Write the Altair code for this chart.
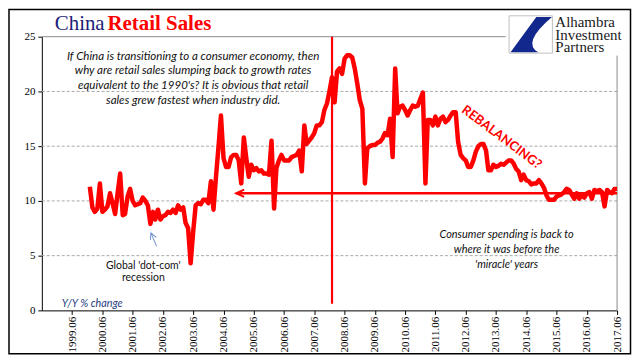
import altair as alt
import pandas as pd

# ---------------- data ----------------
first_month = "2000-01-01"
retail_sales = [
    11.3, 9.4, 9.0, 9.3, 11.6, 9.0, 9.2, 9.5, 10.7, 9.8, 8.8, 10.7,      # 2000
    12.5, 8.7, 8.8, 10.4, 11.1, 10.0, 9.6, 9.7, 9.8, 10.3, 10.0, 9.6,    # 2001
    7.9, 9.0, 8.3, 9.2, 8.3, 8.6, 8.7, 9.0, 8.9, 9.2, 8.9, 9.6,          # 2002
    9.2, 9.4, 8.0, 7.5, 4.3, 7.2, 9.6, 9.8, 9.7, 10.1, 10.1, 9.8,        # 2003
    11.8, 9.2, 12.1, 14.9, 17.8, 13.9, 13.1, 13.1, 14.0, 14.2, 14.2, 13.7,  # 2004
    11.6, 15.8, 14.0, 12.2, 13.3, 12.8, 13.0, 12.7, 12.8, 12.5, 12.5, 12.4,  # 2005
    15.5, 9.3, 13.0, 13.7, 14.2, 13.7, 13.7, 13.7, 14.0, 14.1, 14.2, 14.6,   # 2006
    12.7, 16.9, 15.2, 15.5, 15.8, 16.2, 16.9, 16.9, 17.2, 18.3, 18.9, 20.0,  # 2007
    21.3, 19.0, 21.8, 22.1, 21.6, 23.0, 23.3, 23.3, 23.1, 22.1, 20.7, 19.2,  # 2008
    18.4, 11.6, 14.8, 15.0, 15.1, 15.1, 15.3, 15.4, 15.7, 16.2, 16.0, 17.5,  # 2009
    14.0, 22.1, 18.0, 18.6, 18.7, 18.3, 17.8, 18.3, 18.7, 18.6, 18.7, 19.3,  # 2010
    19.9, 11.6, 17.4, 17.4, 16.9, 17.7, 16.9, 17.5, 17.7, 17.2, 17.4, 17.8,  # 2011
    18.1, 18.1, 15.4, 14.2, 13.9, 13.7, 13.1, 13.1, 13.7, 14.5, 15.0, 15.2,  # 2012
    15.2, 14.6, 12.8, 12.8, 13.3, 13.1, 13.2, 13.4, 13.3, 13.5, 13.7, 13.7,  # 2013
    13.4, 12.9, 12.7, 11.9, 12.4, 11.9, 11.8, 11.5, 11.6, 11.6, 11.9, 11.6,  # 2014
    11.2, 10.5, 10.1, 10.1, 10.1, 10.4, 10.5, 10.6, 10.8, 11.1, 11.0, 10.6,  # 2015
    10.2, 10.7, 10.2, 10.5, 10.3, 10.7, 10.8, 10.2, 11.0, 10.9, 11.0, 10.8,  # 2016
    9.5, 11.0, 10.8, 10.7, 11.1, 11.1,                                      # 2017
]
axis_years = list(range(1999, 2018))
y_ticks = [0, 5, 10, 15, 20, 25]
grid_levels = [5, 10, 15, 20]
marker_date = ["2008-01-01"]
marker_top = [25]
marker_bottom = [0.6]
arrow_start = ["2004-11-01"]
arrow_end = ["2017-06-01"]
arrow_level = [10.7]

question_lines = [
    "If China  is transitioning to a consumer economy, then",
    "why are retail sales slumping back to growth rates",
    "equivalent to the 1990's?  It is obvious that retail",
    "sales grew fastest when industry did.",
]
dotcom_lines = ["Global 'dot-com'", "recession"]
consumer_lines = ["Consumer spending is back to", "where it was before the", "'miracle' years"]
logo_lines = ["Alhambra", "Investment", "Partners"]

# ---------------- tables ----------------
df = pd.DataFrame({
    "date": pd.date_range(first_month, periods=len(retail_sales), freq="MS"),
    "value": retail_sales,
})
marker_df = pd.DataFrame({"date": pd.to_datetime(marker_date), "value": marker_top, "bottom": marker_bottom})
arrow_df = pd.DataFrame({"date": pd.to_datetime(arrow_start), "end": pd.to_datetime(arrow_end), "value": arrow_level})
grid_df = pd.DataFrame({"value": grid_levels})
one = pd.DataFrame({"a": [0]})

W, H = 578, 275
x_scale = alt.Scale(domain=[alt.DateTime(year=1998, month=6, date=1),
                            alt.DateTime(year=2017, month=6, date=1)])
y_scale = alt.Scale(domain=[0, 25], nice=False)

x_axis = alt.Axis(
    values=[alt.DateTime(year=y, month=6, date=1) for y in axis_years],
    format="%Y.%m", labelAngle=270, title=None, labelOverlap=False, labelFlush=False,
)
y_axis = alt.Axis(values=y_ticks, title=None)

X = alt.X("date:T", scale=x_scale, axis=x_axis)
Y = alt.Y("value:Q", scale=y_scale, axis=y_axis)

grid = alt.Chart(grid_df).mark_rule(color="#a8a8a8", strokeDash=[3, 2], strokeWidth=1).encode(y=Y)
top_line = alt.Chart(one).mark_rule(color="#8a8a8a", strokeWidth=1).encode(
    x=alt.value(0), x2=alt.value(466), y=alt.value(0)
)
right_line = alt.Chart(one).mark_rule(color="#8a8a8a", strokeWidth=1).encode(
    x=alt.value(578), y=alt.value(19), y2=alt.value(H)
)

line = alt.Chart(df).mark_line(color="#ff0000", strokeWidth=4.5, strokeJoin="round").encode(x=X, y=Y)

marker = alt.Chart(marker_df).mark_rule(color="#ff0000", strokeWidth=2.2).encode(
    x=X, y=Y, y2="bottom:Q"
)
arrow = alt.Chart(arrow_df).mark_rule(color="#ff0000", strokeWidth=2.5).encode(
    x=X, x2="end:T", y=Y
)
arrow_head = alt.Chart(arrow_df).mark_point(
    shape="M1,-0.45 L0,0 L1,0.45", size=256, filled=False, color="#ff0000", strokeWidth=2, opacity=1
).encode(x=X, y=Y)

# border around the whole chart
border = alt.Chart(one).mark_rect(fill=None, stroke="black", strokeWidth=1.5).encode(
    x=alt.value(-33), x2=alt.value(591.5), y=alt.value(-27.3), y2=alt.value(318.5)
)

title_a = alt.Chart(one).mark_text(
    text="China", font="Liberation Serif", fontSize=21, color="#1c1c78", align="left", baseline="alphabetic"
).encode(x=alt.value(13), y=alt.value(-7))
title_b = alt.Chart(one).mark_text(
    text="Retail Sales", font="Liberation Serif", fontSize=21, fontWeight="bold", color="#ff0000",
    align="left", baseline="alphabetic"
).encode(x=alt.value(66), y=alt.value(-7))

logo_box = alt.Chart(one).mark_rect(fill="white", stroke="#c0c0c0", strokeWidth=1).encode(
    x=alt.value(469.5), x2=alt.value(513), y=alt.value(-21), y2=alt.value(16.5)
)
logo_mark = alt.Chart(one).mark_point(
    shape="M1.15,-0.95 L0.3,-0.95 L-1.1,0.97 L0.4,0.97 Q-0.5,0.45 1.15,-0.95 Z",
    size=1369, filled=True, color="#13288c", opacity=1, strokeWidth=0
).encode(x=alt.value(491.3), y=alt.value(-2.3))
logo_texts = [
    alt.Chart(one).mark_text(
        text=t, font="Liberation Serif", fontSize=15, color="#1a1a1a", align="left", baseline="alphabetic"
    ).encode(x=alt.value(516), y=alt.value(-9.5 + 12.6 * i))
    for i, t in enumerate(logo_lines)
]

question = alt.Chart(one).mark_text(
    text=question_lines, font="Lato", fontSize=11.6, fontStyle="italic", color="#111111",
    align="center", baseline="alphabetic", lineHeight=14.75
).encode(x=alt.value(152), y=alt.value(23))
dotcom = alt.Chart(one).mark_text(
    text=dotcom_lines, font="Lato", fontSize=10.5, color="#111111",
    align="center", baseline="alphabetic", lineHeight=12.7
).encode(x=alt.value(102), y=alt.value(233))
consumer = alt.Chart(one).mark_text(
    text=consumer_lines, font="Lato", fontSize=11, fontStyle="italic", color="#111111",
    align="center", baseline="alphabetic", lineHeight=15
).encode(x=alt.value(467), y=alt.value(202))
yy = alt.Chart(one).mark_text(
    text="Y/Y % change", font="Lato", fontSize=10.8, fontStyle="italic", color="#1f3c80",
    align="left", baseline="alphabetic"
).encode(x=alt.value(20), y=alt.value(272))
rebal = alt.Chart(one).mark_text(
    text="REBALANCING?", font="Lato", fontSize=13, fontWeight="bold", color="#ff0000",
    align="center", baseline="middle", angle=37
).encode(x=alt.value(462), y=alt.value(101))

blue_shaft = alt.Chart(one).mark_rule(color="#6b8fc9", strokeWidth=1).encode(
    x=alt.value(115.3), y=alt.value(210.7), x2=alt.value(109.7), y2=alt.value(197.3)
)
blue_head = alt.Chart(one).mark_point(
    shape="M-0.55,1 L0,0 L0.55,1", size=144, filled=False, color="#6b8fc9", strokeWidth=1,
    angle=337, opacity=1
).encode(x=alt.value(109.7), y=alt.value(197.3))

chart = alt.layer(
    border, grid, top_line, right_line, line, marker, arrow, arrow_head,
    title_a, title_b, logo_box, logo_mark, *logo_texts,
    question, dotcom, consumer, yy, rebal, blue_shaft, blue_head,
).properties(
    width=W, height=H,
    autosize=alt.AutoSizeParams(type="none"),
    padding={"left": 34, "top": 28, "right": 16, "bottom": 46},
    background="white",
).configure_view(stroke=None).configure_axis(
    labelFont="Liberation Serif", labelFontSize=11, labelColor="black",
    domainColor="black", tickColor="black", tickSize=4, grid=False,
).configure_axisX(labelPadding=2).configure_axisY(labelPadding=3)

chart.save("out.html", embed_options={"renderer": "svg", "actions": False})
